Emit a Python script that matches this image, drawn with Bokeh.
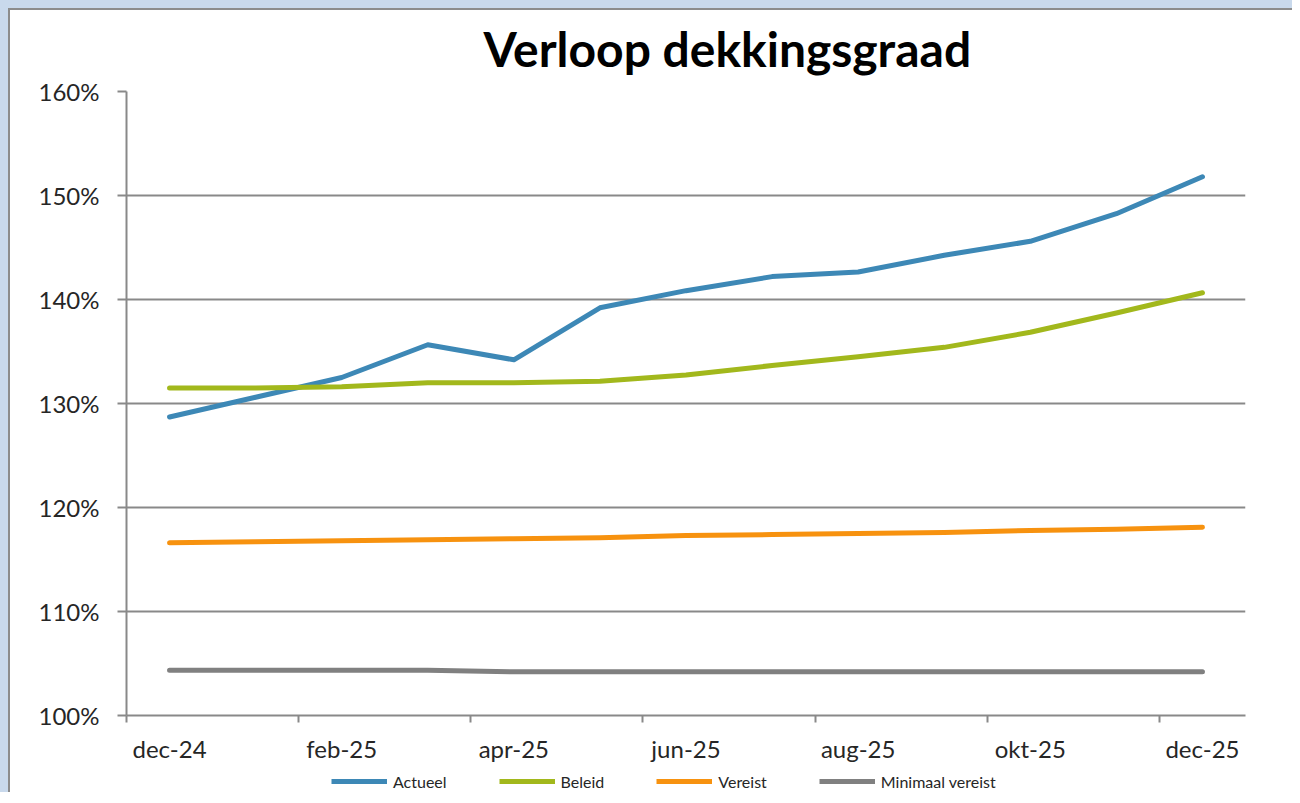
from bokeh.plotting import figure
from bokeh.layouts import column
from bokeh.models import (Range1d, FixedTicker, PrintfTickFormatter, Legend, LegendItem, Title)
from bokeh.embed import file_html
from bokeh.resources import INLINE

months = ["dec-24", "jan-25", "feb-25", "mrt-25", "apr-25", "mei-25", "jun-25",
          "jul-25", "aug-25", "sep-25", "okt-25", "nov-25", "dec-25"]
actueel = [128.7, 130.6, 132.5, 135.65, 134.2, 139.2, 140.85, 142.2, 142.65, 144.25, 145.6, 148.25, 151.8]
beleid = [131.5, 131.5, 131.6, 132.0, 132.0, 132.15, 132.75, 133.65, 134.5, 135.4, 136.85, 138.7, 140.65]
vereist = [116.6, 116.7, 116.8, 116.9, 117.0, 117.1, 117.3, 117.4, 117.5, 117.6, 117.8, 117.9, 118.1]
minimaal = [104.35, 104.35, 104.35, 104.35, 104.2, 104.2, 104.2, 104.2, 104.2, 104.2, 104.2, 104.2, 104.2]
y_ticks = [100, 110, 120, 130, 140, 150, 160]

series = [("Actueel", actueel, "#3d88b6"),
          ("Beleid", beleid, "#a2b81c"),
          ("Vereist", vereist, "#f7920f"),
          ("Minimaal vereist", minimaal, "#808080")]

n = len(months)
xs = list(range(n))
FONT = "Lato"
GRID = "#898989"
TXT = "#262626"

p = figure(frame_width=1119, frame_height=624, output_backend="svg", toolbar_location=None,
           x_range=Range1d(-0.5, n - 0.5), y_range=Range1d(y_ticks[0], y_ticks[-1]),
           min_border_left=126, min_border_right=47, min_border_top=91, min_border_bottom=55)
p.outline_line_color = None
p.background_fill_color = "white"
p.border_fill_alpha = 0
p.styles = {"background-color": "white",
            "box-shadow": "inset 8px 8px 0 0 #c9d9ec, inset 10px 10px 0 0 #8c8c8c"}

title = Title(text="Verloop dekkingsgraad", align="left", offset=357,
              text_font=FONT, text_font_size="48px", text_font_style="bold",
              text_color="black", standoff=29)
p.add_layout(title, "above")

# y axis
p.yaxis.ticker = FixedTicker(ticks=y_ticks)
p.yaxis.formatter = PrintfTickFormatter(format="%d%%")
p.yaxis.axis_line_color = GRID
p.yaxis.axis_line_width = 2
p.yaxis.major_tick_line_color = GRID
p.yaxis.major_tick_line_width = 2
p.yaxis.major_tick_out = 9
p.yaxis.major_tick_in = 0
p.yaxis.minor_tick_line_color = None
p.yaxis.major_label_text_font = FONT
p.yaxis.major_label_text_font_size = "24px"
p.yaxis.major_label_text_color = TXT
p.yaxis.major_label_standoff = 18

p.ygrid.ticker = FixedTicker(ticks=y_ticks)
p.ygrid.grid_line_color = GRID
p.ygrid.grid_line_width = 2
p.xgrid.grid_line_color = None

# x axis: labels every other month, tick marks at category boundaries
label_pos = xs[::2]
bounds = [i - 0.5 for i in range(0, n + 1, 2)]
p.xaxis.ticker = FixedTicker(ticks=label_pos, minor_ticks=bounds)
p.xaxis.major_label_overrides = {i: months[i] for i in label_pos}
p.xaxis.axis_line_color = GRID
p.xaxis.axis_line_width = 2
p.xaxis.major_tick_line_color = None
p.xaxis.major_tick_out = 0
p.xaxis.major_tick_in = 0
p.xaxis.minor_tick_line_color = GRID
p.xaxis.minor_tick_line_width = 2
p.xaxis.minor_tick_out = 7
p.xaxis.minor_tick_in = 0
p.xaxis.major_label_text_font = FONT
p.xaxis.major_label_text_font_size = "24px"
p.xaxis.major_label_text_color = TXT
p.xaxis.major_label_standoff = 11

for name, vals, col in series:
    p.line(xs, vals, line_color=col, line_width=5, line_join="round", line_cap="round")

# legend strip below the chart (a separate, axis-less figure whose view hides the lines)
lg = figure(width=1292, height=22, output_backend="svg", toolbar_location=None,
            x_range=Range1d(-0.5, n - 0.5), y_range=Range1d(0, 1),
            min_border=0, x_axis_type=None, y_axis_type=None)
lg.outline_line_color = None
lg.grid.grid_line_color = None
lg.background_fill_alpha = 0
lg.border_fill_alpha = 0
lg.styles = {"background-color": "white",
             "box-shadow": "inset 8px 0 0 0 #c9d9ec, inset 10px 0 0 0 #8c8c8c"}
items = []
for name, vals, col in series:
    r = lg.line(xs, vals, line_color=col, line_width=5)
    items.append(LegendItem(label=name, renderers=[r]))

legend = Legend(items=items, orientation="horizontal", location=(205, 1),
                label_text_font=FONT, label_text_font_size="16px", label_text_color=TXT,
                glyph_width=56, glyph_height=20, label_height=20, label_standoff=6, spacing=52,
                padding=0, margin=0, border_line_color=None, background_fill_alpha=0)
lg.add_layout(legend, "center")

open("out.html", "w").write(file_html(column(p, lg, spacing=0), INLINE))
